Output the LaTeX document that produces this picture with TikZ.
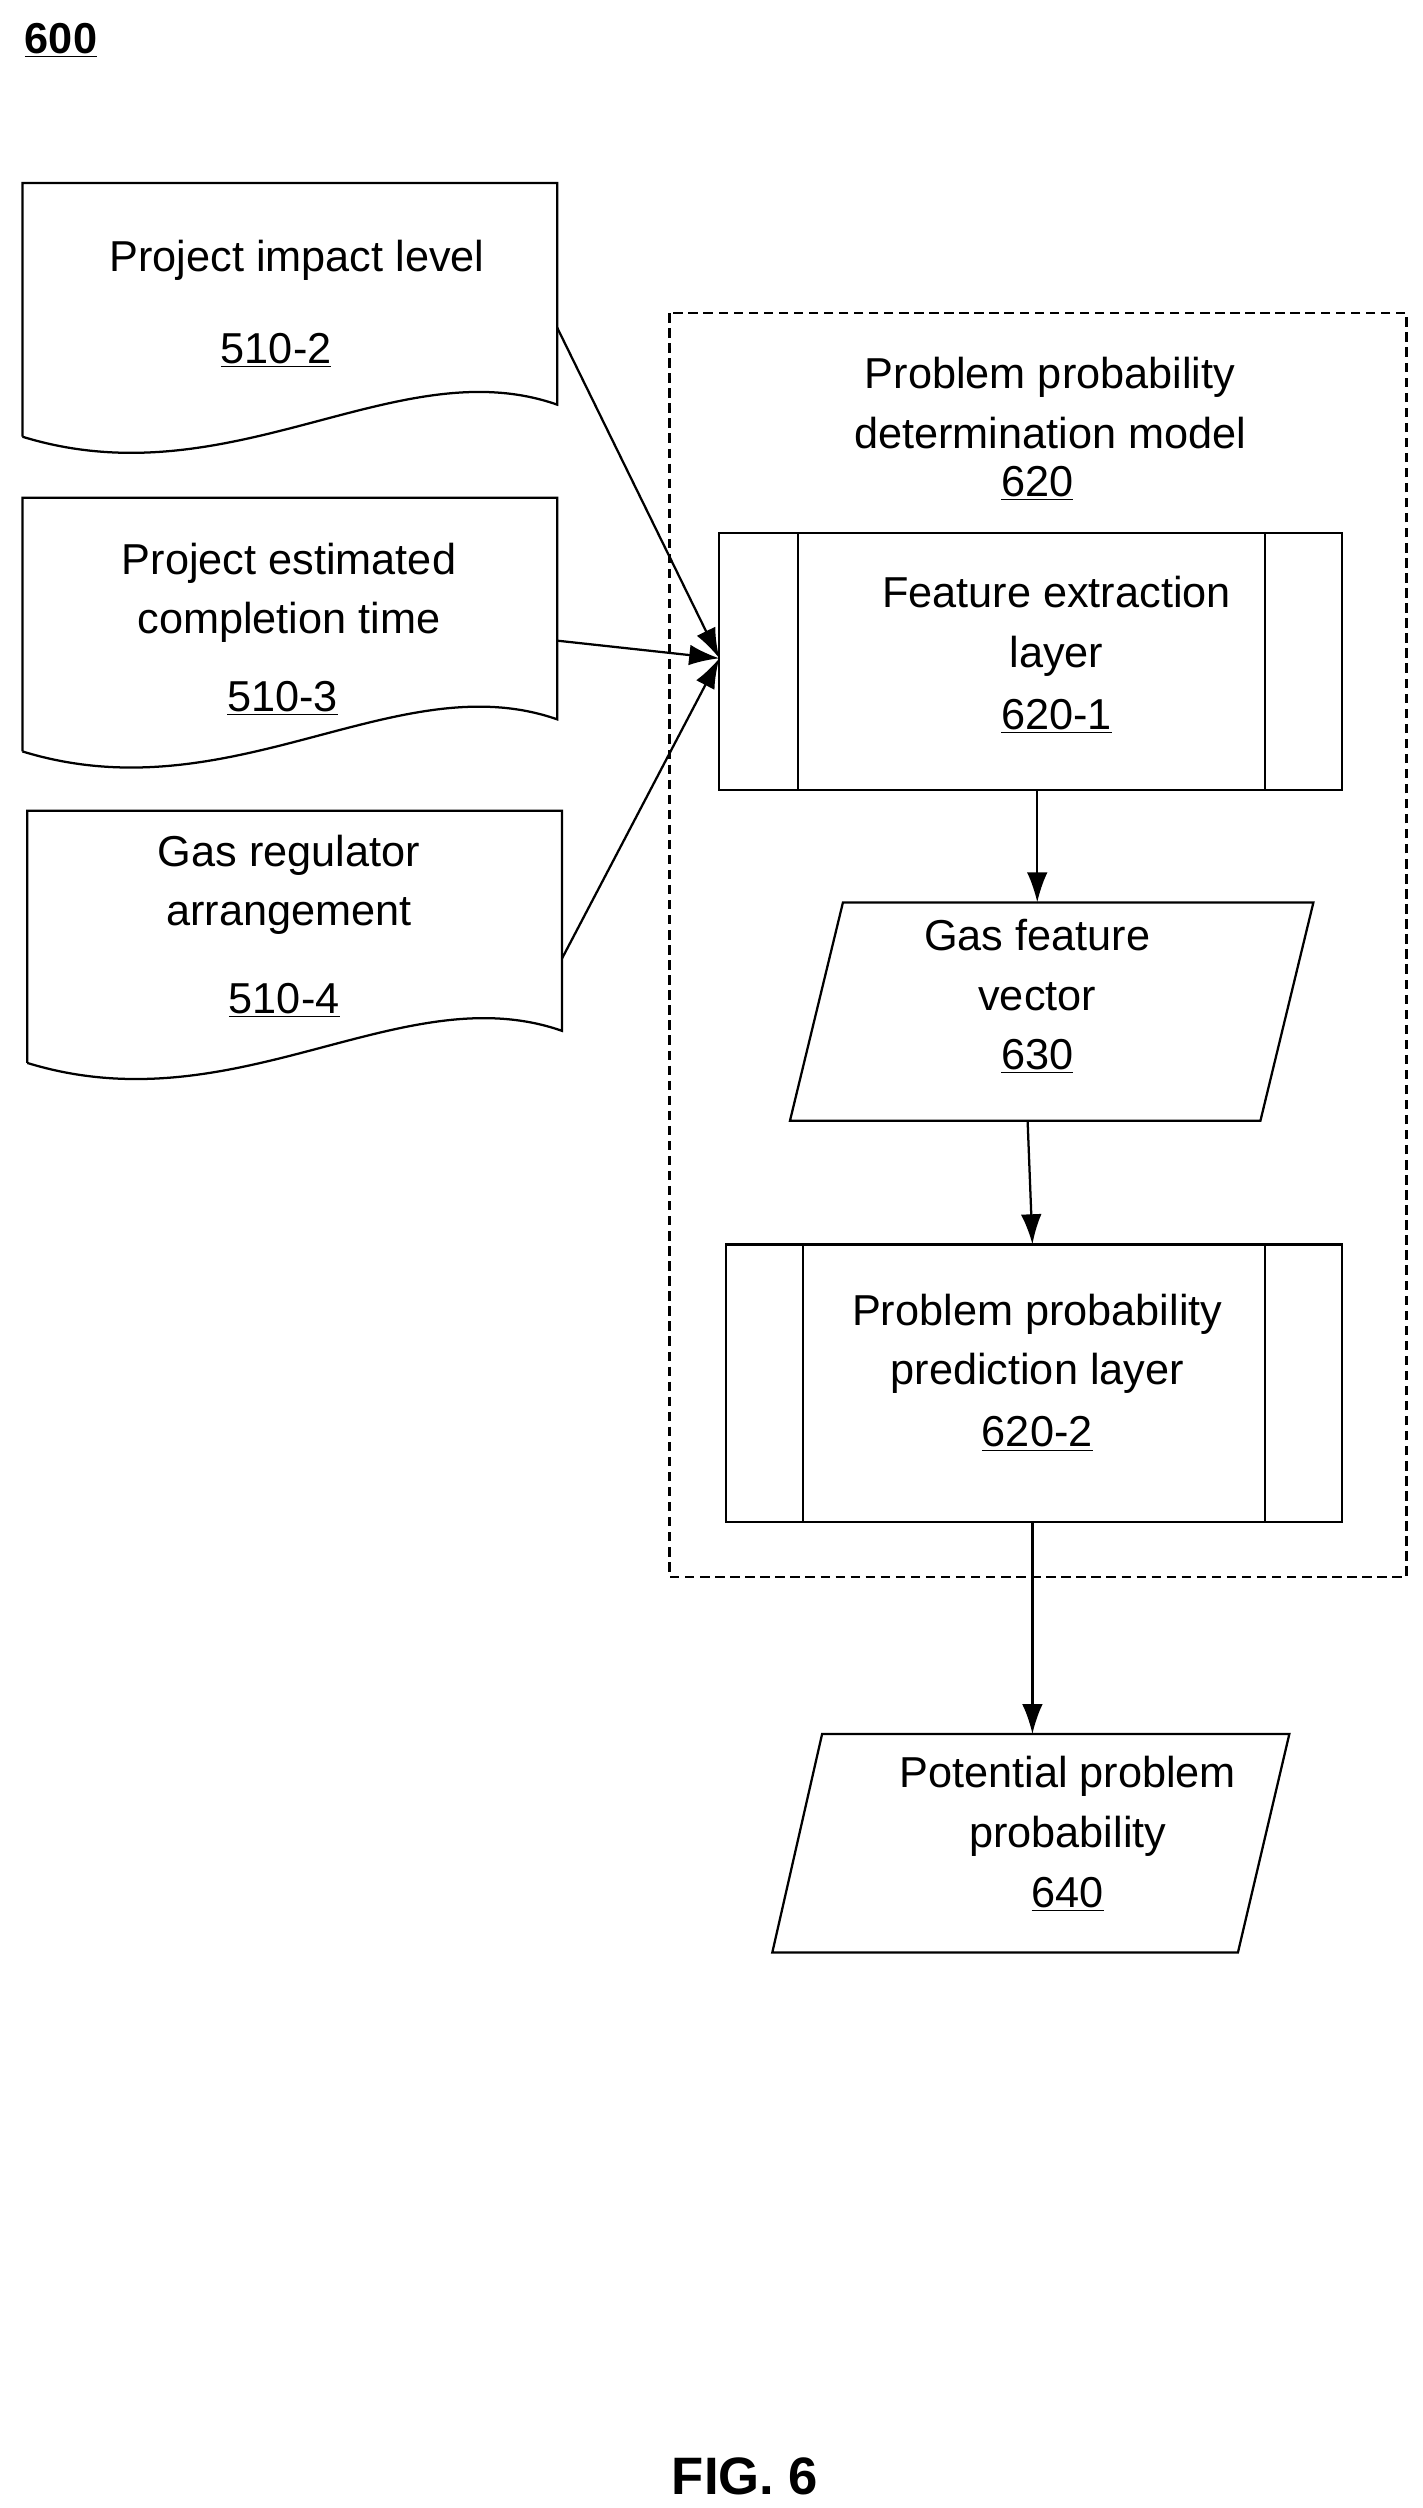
\documentclass[tikz,border=0pt]{standalone}
\usepackage{fontspec}
\setmainfont{Liberation Sans}
\usetikzlibrary{arrows.meta,shapes.geometric}
\tikzset{
  txt/.style={font=\fontsize{23}{31.5}\selectfont,align=center,inner sep=0pt},
  lnk/.style={-{Latex[length=16pt,width=11pt]},line width=1.2pt},
  bx/.style={draw,line width=1.2pt},
}
\newcommand{\docshape}[4]{% x0, x1, top, bottom
  \draw[bx] (#1,#4) -- (#1,#3) -- (#2,#3) -- (#2,#4-20)
    .. controls (#2-100,#4-55) and (#1+130,#4+40) .. (#1,#4);}
\newcommand{\procbox}[5]{% x0, x1, top, bottom, inner offset
  \draw[bx] (#1,#3) rectangle (#2,#4);
  \draw[bx] (#1+#5,#3) -- (#1+#5,#4) (#2-48,#3) -- (#2-48,#4);}
\begin{document}
\begin{tikzpicture}[x=0.03cm,y=-0.03cm]
  \useasboundingbox (0,0) rectangle (886,1562);
  \node[txt,font=\fontsize{23}{28}\selectfont\bfseries] (fig) at (38,25) {\underline{600}};
  % input documents
  \docshape{14}{347}{114}{272}
  \node[txt] (d2a) at (185,162) {Project impact level};
  \node[txt] (d2b) at (172,218) {\underline{510-2}};
  \docshape{14}{347}{310}{468}
  \node[txt] (d3a) at (180,369) {Project estimated\\completion time};
  \node[txt] (d3b) at (176,435) {\underline{510-3}};
  \docshape{17}{350}{505}{662}
  \node[txt] (d4a) at (180,551) {Gas regulator\\arrangement};
  \node[txt] (d4b) at (177,623) {\underline{510-4}};
  \coordinate (o2) at (347,204);
  \coordinate (o3) at (347,399);
  \coordinate (o4) at (350,597);
  % model
  \draw[line width=1.2pt,dash pattern=on 5pt off 3pt] (417,195) rectangle (876,982);
  \node[txt] (mdl) at (654,251) {Problem probability\\determination model};
  \node[txt] (mdln) at (646,301) {\underline{620}};
  \procbox{448}{836}{332}{492}{49}
  \node[txt] (fe) at (658,390) {Feature extraction\\layer};
  \node[txt] (fen) at (658,446) {\underline{620-1}};
  \coordinate (in) at (448,410);
  \coordinate (feb) at (646,492);
  \draw[bx] (525,562) -- (818,562) -- (785,698) -- (492,698) -- cycle;
  \node[txt] (gv) at (646,601) {Gas feature\\vector};
  \node[txt] (gvn) at (646,658) {\underline{630}};
  \coordinate (gvt) at (646,562);
  \coordinate (gvb) at (640,698);
  \procbox{452}{836}{775}{948}{48}
  \node[txt] (pp) at (646,837) {Problem probability\\prediction layer};
  \node[txt] (ppn) at (646,893) {\underline{620-2}};
  \coordinate (ppt) at (643,775);
  \coordinate (ppb) at (643,948);
  \draw[bx] (512,1080) -- (803,1080) -- (771,1216) -- (481,1216) -- cycle;
  \node[txt] (out) at (665,1125) {Potential problem\\probability};
  \node[txt] (outn) at (665,1180) {\underline{640}};
  \coordinate (outt) at (643,1080);
  % connectors
  \draw[lnk] (o2) -- (in);
  \draw[lnk] (o3) -- (in);
  \draw[lnk] (o4) -- (in);
  \draw[lnk] (feb) -- (gvt);
  \draw[lnk] (gvb) -- (ppt);
  \draw[lnk] (ppb) -- (outt);
  \node[txt,font=\fontsize{28}{32}\selectfont\bfseries] (cap) at (464,1542) {FIG. 6};
\end{tikzpicture}
\end{document}
